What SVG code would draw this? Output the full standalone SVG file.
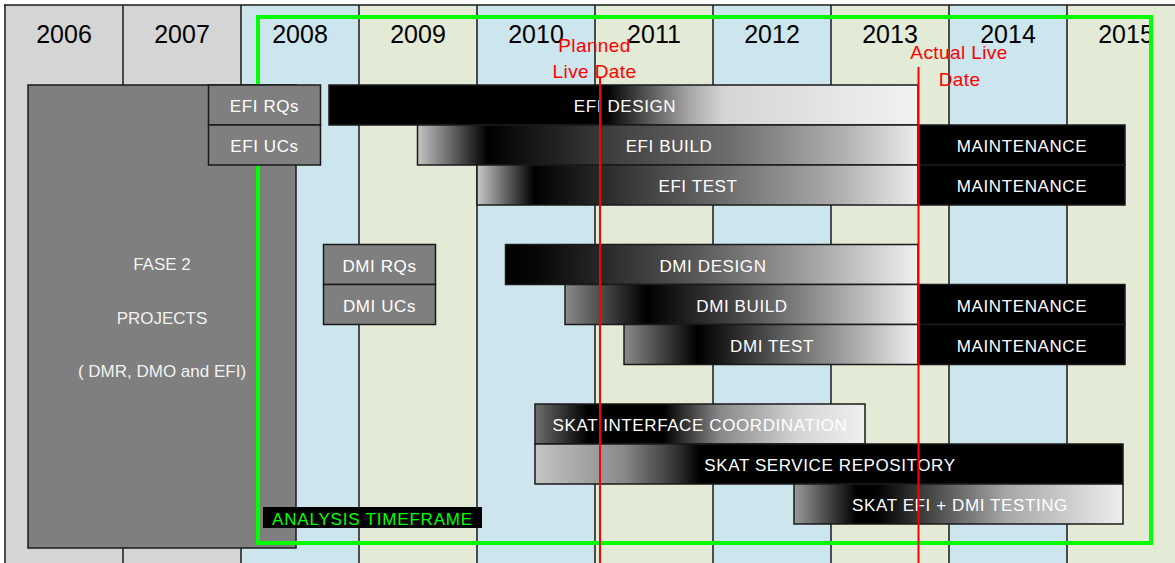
<svg xmlns="http://www.w3.org/2000/svg" width="1175" height="563" viewBox="0 0 1175 563">
<style>
.col-g{fill:#d5d5d5}
.col-b{fill:#cde6ed}
.col-n{fill:#e3ead5}
.vline{stroke:#1a1a1a;stroke-width:1.5}
.year{font-family:"Liberation Sans",Arial,sans-serif;font-size:25px;fill:#000;text-anchor:middle}
.box{fill:#7f7f7f;stroke:#1a1a1a;stroke-width:1.5}
.bar{stroke:#1a1a1a;stroke-width:1.5}
.lbl{font-family:"Liberation Sans",Arial,sans-serif;font-size:17px;fill:#fff;text-anchor:middle;letter-spacing:0.6px}
.glbl{font-family:"Liberation Sans",Arial,sans-serif;font-size:17px;fill:#f2f2f2;text-anchor:middle}
.red{stroke:#ff0000;stroke-width:2}
.rtxt{font-family:"Liberation Sans",Arial,sans-serif;font-size:19px;fill:#ff0000;text-anchor:middle;letter-spacing:0.4px}
</style>
<defs>
<linearGradient id="gEfiDesign" x1="0" y1="0" x2="1" y2="0">
<stop offset="0" stop-color="#000"/><stop offset="0.47" stop-color="#000"/><stop offset="0.53" stop-color="#4a4a4a"/><stop offset="0.61" stop-color="#a5a5a5"/><stop offset="0.67" stop-color="#d5d5d5"/><stop offset="1" stop-color="#f2f2f2"/>
</linearGradient>
<linearGradient id="gEfiBuild" x1="0" y1="0" x2="1" y2="0">
<stop offset="0" stop-color="#c4c4c4"/><stop offset="0.14" stop-color="#000"/><stop offset="0.28" stop-color="#222"/><stop offset="0.4" stop-color="#424242"/><stop offset="0.62" stop-color="#6c6c6c"/><stop offset="0.85" stop-color="#b0b0b0"/><stop offset="1" stop-color="#ececec"/>
</linearGradient>
<linearGradient id="gEfiTest" x1="0" y1="0" x2="1" y2="0">
<stop offset="0" stop-color="#c8c8c8"/><stop offset="0.13" stop-color="#000"/><stop offset="0.27" stop-color="#262626"/><stop offset="0.5" stop-color="#5e5e5e"/><stop offset="0.8" stop-color="#a8a8a8"/><stop offset="1" stop-color="#ececec"/>
</linearGradient>
<linearGradient id="gDmiDesign" x1="0" y1="0" x2="1" y2="0">
<stop offset="0" stop-color="#000"/><stop offset="0.08" stop-color="#080808"/><stop offset="0.45" stop-color="#555"/><stop offset="0.72" stop-color="#9c9c9c"/><stop offset="1" stop-color="#f0f0f0"/>
</linearGradient>
<linearGradient id="gDmiBuild" x1="0" y1="0" x2="1" y2="0">
<stop offset="0" stop-color="#8a8a8a"/><stop offset="0.23" stop-color="#000"/><stop offset="0.5" stop-color="#4a4a4a"/><stop offset="1" stop-color="#efefef"/>
</linearGradient>
<linearGradient id="gDmiTest" x1="0" y1="0" x2="1" y2="0">
<stop offset="0" stop-color="#8a8a8a"/><stop offset="0.25" stop-color="#000"/><stop offset="0.5" stop-color="#505050"/><stop offset="1" stop-color="#efefef"/>
</linearGradient>
<linearGradient id="gSkatIf" x1="0" y1="0" x2="1" y2="0">
<stop offset="0" stop-color="#6e6e6e"/><stop offset="0.16" stop-color="#000"/><stop offset="0.39" stop-color="#000"/><stop offset="0.56" stop-color="#888"/><stop offset="0.8" stop-color="#d5d5d5"/><stop offset="1" stop-color="#f0f0f0"/>
</linearGradient>
<linearGradient id="gSkatRepo" x1="0" y1="0" x2="1" y2="0">
<stop offset="0" stop-color="#c4c4c4"/><stop offset="0.15" stop-color="#8a8a8a"/><stop offset="0.24" stop-color="#333"/><stop offset="0.28" stop-color="#000"/><stop offset="1" stop-color="#000"/>
</linearGradient>
<linearGradient id="gSkatTest" x1="0" y1="0" x2="1" y2="0">
<stop offset="0" stop-color="#9a9a9a"/><stop offset="0.19" stop-color="#000"/><stop offset="0.25" stop-color="#000"/><stop offset="0.45" stop-color="#555"/><stop offset="0.65" stop-color="#a8a8a8"/><stop offset="1" stop-color="#eeeeee"/>
</linearGradient>
</defs>

<rect x="0" y="0" width="1175" height="563" fill="#fff"/>

<g id="columns">
<rect class="col-g" x="5" y="5" width="118" height="558"/>
<rect class="col-g" x="123" y="5" width="118" height="558"/>
<rect class="col-b" x="241" y="5" width="118" height="558"/>
<rect class="col-n" x="359" y="5" width="118" height="558"/>
<rect class="col-b" x="477" y="5" width="118" height="558"/>
<rect class="col-n" x="595" y="5" width="118" height="558"/>
<rect class="col-b" x="713" y="5" width="118" height="558"/>
<rect class="col-n" x="831" y="5" width="118" height="558"/>
<rect class="col-b" x="949" y="5" width="118" height="558"/>
<rect class="col-n" x="1067" y="5" width="118" height="558"/>
<line class="vline" x1="4" y1="5" x2="1175" y2="5"/>
<line class="vline" x1="5" y1="5" x2="5" y2="563"/>
<line class="vline" x1="123" y1="5" x2="123" y2="563"/>
<line class="vline" x1="241" y1="5" x2="241" y2="563"/>
<line class="vline" x1="359" y1="5" x2="359" y2="563"/>
<line class="vline" x1="477" y1="5" x2="477" y2="563"/>
<line class="vline" x1="595" y1="5" x2="595" y2="563"/>
<line class="vline" x1="713" y1="5" x2="713" y2="563"/>
<line class="vline" x1="831" y1="5" x2="831" y2="563"/>
<line class="vline" x1="949" y1="5" x2="949" y2="563"/>
<line class="vline" x1="1067" y1="5" x2="1067" y2="563"/>
<text class="year" x="64" y="43">2006</text>
<text class="year" x="182" y="43">2007</text>
<text class="year" x="300" y="43">2008</text>
<text class="year" x="418" y="43">2009</text>
<text class="year" x="536" y="43">2010</text>
<text class="year" x="654" y="43">2011</text>
<text class="year" x="772" y="43">2012</text>
<text class="year" x="890" y="43">2013</text>
<text class="year" x="1008" y="43">2014</text>
<text class="year" x="1126" y="43">2015</text>
</g>

<g id="fase2">
<rect class="box" x="28" y="85" width="268" height="463"/>
<text class="glbl" x="162" y="270">FASE 2</text>
<text class="glbl" x="162" y="324">PROJECTS</text>
<text class="glbl" x="162" y="377">( DMR, DMO and EFI)</text>
</g>

<g id="analysis-frame">
<rect x="258" y="17" width="893" height="526" fill="none" stroke="#00ff00" stroke-width="4"/>
</g>

<g id="efi-rqs"><rect class="box" x="208.5" y="85" width="112" height="40"/><text class="lbl" x="264.5" y="112">EFI RQs</text></g>
<g id="efi-ucs"><rect class="box" x="208.5" y="125" width="112" height="40"/><text class="lbl" x="264.5" y="152">EFI UCs</text></g>

<g id="efi-design"><rect class="bar" x="329" y="85" width="589" height="40" fill="url(#gEfiDesign)"/><text class="lbl" x="625" y="112">EFI DESIGN</text></g>
<g id="efi-build"><rect class="bar" x="417.5" y="125" width="500.5" height="40" fill="url(#gEfiBuild)"/><text class="lbl" x="669" y="152">EFI BUILD</text></g>
<g id="efi-maint-1"><rect class="bar" x="918" y="125" width="207" height="40" fill="#000"/><text class="lbl" x="1022" y="152">MAINTENANCE</text></g>
<g id="efi-test"><rect class="bar" x="477" y="165" width="441" height="40" fill="url(#gEfiTest)"/><text class="lbl" x="698" y="192">EFI TEST</text></g>
<g id="efi-maint-2"><rect class="bar" x="918" y="165" width="207" height="40" fill="#000"/><text class="lbl" x="1022" y="192">MAINTENANCE</text></g>

<g id="dmi-rqs"><rect class="box" x="323.5" y="244.5" width="112" height="40"/><text class="lbl" x="379.5" y="272">DMI RQs</text></g>
<g id="dmi-ucs"><rect class="box" x="323.5" y="284.5" width="112" height="40"/><text class="lbl" x="379.5" y="312">DMI UCs</text></g>

<g id="dmi-design"><rect class="bar" x="505.5" y="244.5" width="412.5" height="40" fill="url(#gDmiDesign)"/><text class="lbl" x="713" y="272">DMI DESIGN</text></g>
<g id="dmi-build"><rect class="bar" x="565" y="284.5" width="353" height="40" fill="url(#gDmiBuild)"/><text class="lbl" x="742" y="312">DMI BUILD</text></g>
<g id="dmi-maint-1"><rect class="bar" x="918" y="284.5" width="207" height="40" fill="#000"/><text class="lbl" x="1022" y="312">MAINTENANCE</text></g>
<g id="dmi-test"><rect class="bar" x="624" y="324.5" width="294" height="40" fill="url(#gDmiTest)"/><text class="lbl" x="772" y="352">DMI TEST</text></g>
<g id="dmi-maint-2"><rect class="bar" x="918" y="324.5" width="207" height="40" fill="#000"/><text class="lbl" x="1022" y="352">MAINTENANCE</text></g>

<g id="skat-interface"><rect class="bar" x="535" y="404" width="330" height="40" fill="url(#gSkatIf)"/><text class="lbl" x="700" y="431">SKAT INTERFACE COORDINATION</text></g>
<g id="skat-repository"><rect class="bar" x="535" y="444" width="588" height="40" fill="url(#gSkatRepo)"/><text class="lbl" x="830" y="471">SKAT SERVICE REPOSITORY</text></g>
<g id="skat-testing"><rect class="bar" x="794" y="484" width="329" height="40" fill="url(#gSkatTest)"/><text class="lbl" x="960" y="511">SKAT EFI + DMI TESTING</text></g>

<g id="analysis-label">
<rect x="263" y="507" width="219" height="21" fill="#000"/>
<text x="372.5" y="525" font-family="Liberation Sans, Arial, sans-serif" font-size="17" fill="#00ff00" text-anchor="middle" letter-spacing="0.8">ANALYSIS TIMEFRAME</text>
</g>

<g id="milestones">
<line class="red" x1="600" y1="78" x2="600" y2="563"/>
<line class="red" x1="918.5" y1="67" x2="918.5" y2="563"/>
<text class="rtxt" x="594.5" y="52">Planned</text>
<text class="rtxt" x="594.5" y="78">Live Date</text>
<text class="rtxt" x="959" y="59">Actual Live</text>
<text class="rtxt" x="959.5" y="86">Date</text>
</g>
</svg>
